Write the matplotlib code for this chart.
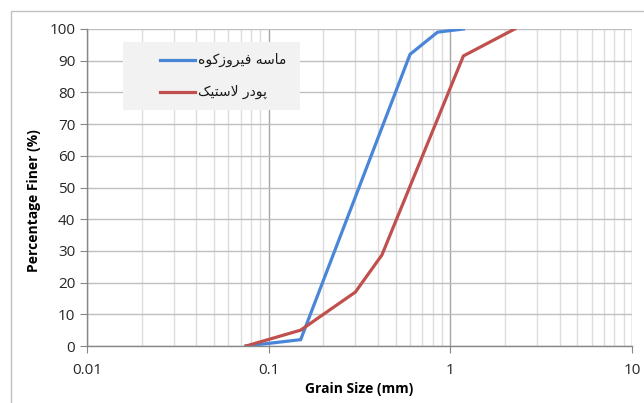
import matplotlib
matplotlib.use("Agg")
import matplotlib.pyplot as plt
from matplotlib.ticker import LogLocator, FixedLocator, NullFormatter
from matplotlib.patches import Rectangle

# Data
sand_size = [0.075, 0.15, 0.60, 0.85, 1.18]
sand_finer = [0, 2, 92, 99, 100]
rubber_size = [0.075, 0.15, 0.30, 0.42, 1.18, 2.26]
rubber_finer = [0, 5, 17, 28.7, 91.5, 100]

# Persian labels, in presentation forms, visual order
sand_label = "\uFEE9\uFEEE\uFB90\uFEAF\uFEED\uFEAE\uFBFF\uFED3 \uFEEA\uFEB3\uFE8E\uFEE3"      # ماسه فیروزکوه
rubber_label = "\uFB8F\uFBFF\uFE98\uFEB3\uFEFB \uFEAD\uFEA9\uFEEE\uFB58"                   # پودر لاستیک

x_ticks = [0.01, 0.1, 1, 10]
x_tick_labels = ["0.01", "0.1", "1", "10"]
y_ticks = list(range(0, 101, 10))

plt.rcParams['font.family'] = ['Open Sans', 'DejaVu Sans']

W, H = 644, 403
fig = plt.figure(figsize=(W / 100, H / 100), dpi=100)
ax = fig.add_axes([87 / W, 1 - 346 / H, (632 - 87) / W, (346 - 29) / H])

# chart border
fig.patches.append(Rectangle((11 / W, -0.1), 1.2, 1 - 11 / H + 0.1, transform=fig.transFigure,
                             fill=False, edgecolor="#bfbfbf", linewidth=1.0))

ax.set_xscale("log")
ax.set_xlim(0.01, 10)
ax.set_ylim(0, 100)

ax.plot(sand_size, sand_finer, color="#4a86d8", linewidth=2.3, label=sand_label, solid_joinstyle="miter")
ax.plot(rubber_size, rubber_finer, color="#c0504d", linewidth=2.3, label=rubber_label, solid_joinstyle="miter")

ax.xaxis.set_major_locator(FixedLocator(x_ticks))
ax.set_xticklabels(x_tick_labels)
ax.xaxis.set_minor_locator(LogLocator(base=10, subs=range(2, 10)))
ax.xaxis.set_minor_formatter(NullFormatter())
ax.set_yticks(y_ticks)

ax.grid(which="major", axis="x", color="#a6a6a6", linewidth=1.0)
ax.grid(which="minor", axis="x", color="#dcdcdc", linewidth=1.0)
ax.grid(which="major", axis="y", color="#bfbfbf", linewidth=1.0)
ax.set_axisbelow(True)

for s in ["top", "right"]:
    ax.spines[s].set_visible(False)
for s in ["left", "bottom"]:
    ax.spines[s].set_color("#868686")
    ax.spines[s].set_linewidth(1.0)

ax.tick_params(axis="both", which="major", length=5, color="#868686", labelsize=11, labelcolor="#262626")
ax.tick_params(axis="x", which="minor", length=0)
ax.tick_params(axis="x", pad=7)

ax.set_xlabel("Grain Size (mm)", fontsize=10, fontweight="bold", labelpad=3)
ax.set_ylabel("Percentage Finer (%)", fontsize=10, fontweight="bold")
ax.yaxis.set_label_coords(-0.084, 0.46)

# Legend box
leg_ax_box = Rectangle((123 / W, 1 - 110 / H), (300 - 123) / W, (110 - 42) / H,
                       transform=fig.transFigure, facecolor="#f2f2f2", edgecolor="none", zorder=5)
fig.patches.append(leg_ax_box)
for i, (lab, col) in enumerate([(sand_label, "#4a86d8"), (rubber_label, "#c0504d")]):
    yy = 1 - (60 + i * 32) / H
    fig.add_artist(plt.Line2D([160 / W, 195 / W], [yy, yy], transform=fig.transFigure,
                              color=col, linewidth=2.3, zorder=6))
    fig.text(198 / W, yy, lab, fontsize=10, va="center", ha="left",
             family=["DejaVu Sans"], zorder=7, color="#1a1a1a")

fig.savefig("out.png", dpi=100)
